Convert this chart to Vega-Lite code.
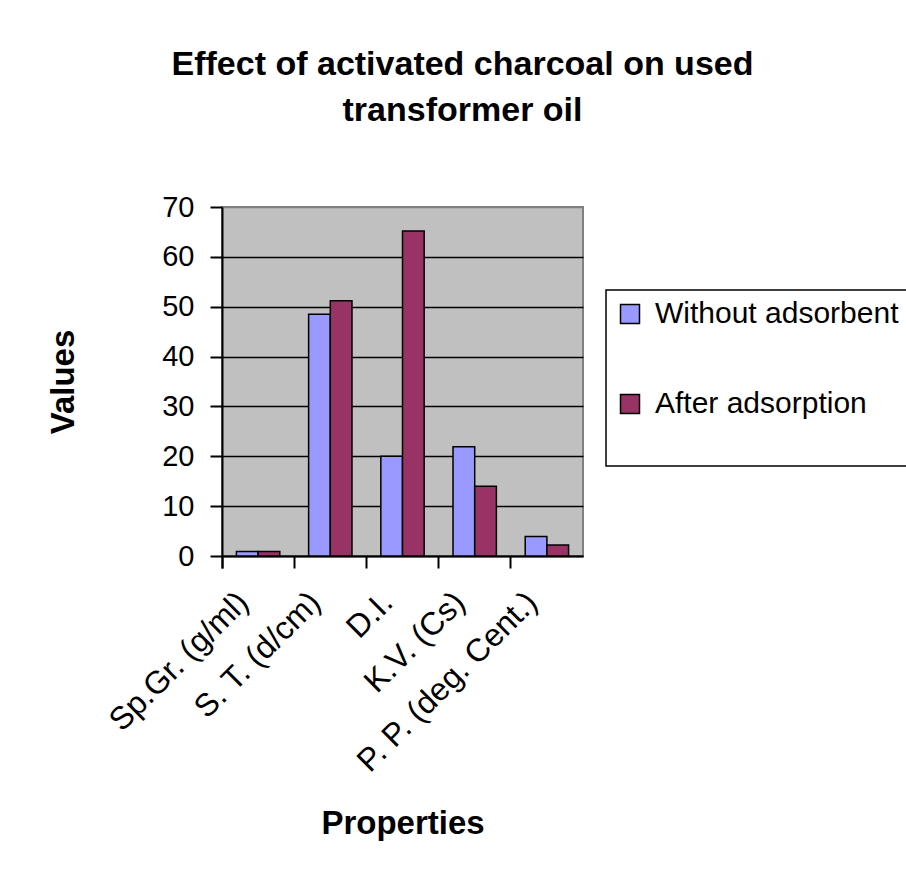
{
  "$schema": "https://vega.github.io/schema/vega-lite/v6.json",
  "autosize": {"type": "none"},
  "width": 361,
  "height": 349,
  "padding": {"left": 222, "top": 207, "right": 323, "bottom": 319},
  "background": "white",
  "title": {
    "text": ["Effect of activated charcoal on used", "transformer oil"],
    "font": "Liberation Sans",
    "fontSize": 34,
    "fontWeight": "bold",
    "color": "black",
    "lineHeight": 46,
    "anchor": "middle",
    "dx": 60,
    "offset": 65
  },
  "data": {
    "values": [
      {"property": "Sp.Gr. (g/ml)", "series": "Without adsorbent", "value": 0.9},
      {"property": "Sp.Gr. (g/ml)", "series": "After adsorption", "value": 0.88},
      {"property": "S. T. (d/cm)", "series": "Without adsorbent", "value": 48.5},
      {"property": "S. T. (d/cm)", "series": "After adsorption", "value": 51.2},
      {"property": "D.I.", "series": "Without adsorbent", "value": 20},
      {"property": "D.I.", "series": "After adsorption", "value": 65.2},
      {"property": "K.V. (Cs)", "series": "Without adsorbent", "value": 21.9},
      {"property": "K.V. (Cs)", "series": "After adsorption", "value": 14},
      {"property": "P. P. (deg. Cent.)", "series": "Without adsorbent", "value": 3.9},
      {"property": "P. P. (deg. Cent.)", "series": "After adsorption", "value": 2.2}
    ]
  },
  "mark": {"type": "bar", "stroke": "black", "strokeWidth": 1.5},
  "encoding": {
    "x": {
      "field": "property",
      "type": "nominal",
      "sort": null,
      "title": "Properties",
      "scale": {"paddingInner": 0, "paddingOuter": 0},
      "axis": {
        "labelAngle": -45,
        "labelAlign": "right",
        "labelBaseline": "middle",
        "labelFont": "Liberation Sans",
        "labelFontSize": 32,
        "labelColor": "black",
        "labelPadding": 29,
        "labelOffset": -15,
        "labelLimit": 400,
        "bandPosition": 0,
        "tickExtra": true,
        "tickSize": 12,
        "tickColor": "black",
        "tickWidth": 2,
        "domainColor": "black",
        "domainWidth": 2,
        "grid": false,
        "titleFont": "Liberation Sans",
        "titleFontSize": 33,
        "titleFontWeight": "bold",
        "titleColor": "black",
        "titlePadding": 51
      }
    },
    "xOffset": {
      "field": "series",
      "sort": ["Without adsorbent", "After adsorption"],
      "scale": {"paddingInner": 0, "paddingOuter": 0.665}
    },
    "y": {
      "field": "value",
      "type": "quantitative",
      "title": "Values",
      "scale": {"domain": [0, 70], "nice": false},
      "axis": {
        "values": [0, 10, 20, 30, 40, 50, 60, 70],
        "labelFont": "Liberation Sans",
        "labelFontSize": 29,
        "labelColor": "black",
        "labelPadding": 16,
        "tickSize": 12,
        "tickColor": "black",
        "tickWidth": 2,
        "domainColor": "black",
        "domainWidth": 2,
        "gridColor": {"condition": {"test": "datum.value == 70", "value": "#808080"}, "value": "black"},
        "gridWidth": 1.5,
        "gridOpacity": 1,
        "titleFont": "Liberation Sans",
        "titleFontSize": 33,
        "titleFontWeight": "bold",
        "titleColor": "black",
        "titlePadding": 81
      }
    },
    "color": {
      "field": "series",
      "type": "nominal",
      "sort": ["Without adsorbent", "After adsorption"],
      "scale": {"domain": ["Without adsorbent", "After adsorption"], "range": ["#9999FF", "#993366"]},
      "legend": {
        "title": " ",
        "titleOrient": "bottom",
        "titleFontSize": 20,
        "titlePadding": 18,
        "orient": "none",
        "legendX": 384,
        "legendY": 83,
        "direction": "vertical",
        "padding": 9,
        "fillColor": "white",
        "strokeColor": "black",
        "symbolType": "square",
        "symbolSize": 361,
        "symbolStrokeColor": "black",
        "symbolStrokeWidth": 1.5,
        "symbolOpacity": 1,
        "labelFont": "Liberation Sans",
        "labelFontSize": 30,
        "labelColor": "black",
        "labelOffset": 10,
        "labelLimit": 400,
        "rowPadding": 60
      }
    }
  },
  "config": {
    "view": {"fill": "#C0C0C0", "stroke": "#808080", "strokeWidth": 2},
    "legend": {"strokeWidth": 1.5}
  }
}
